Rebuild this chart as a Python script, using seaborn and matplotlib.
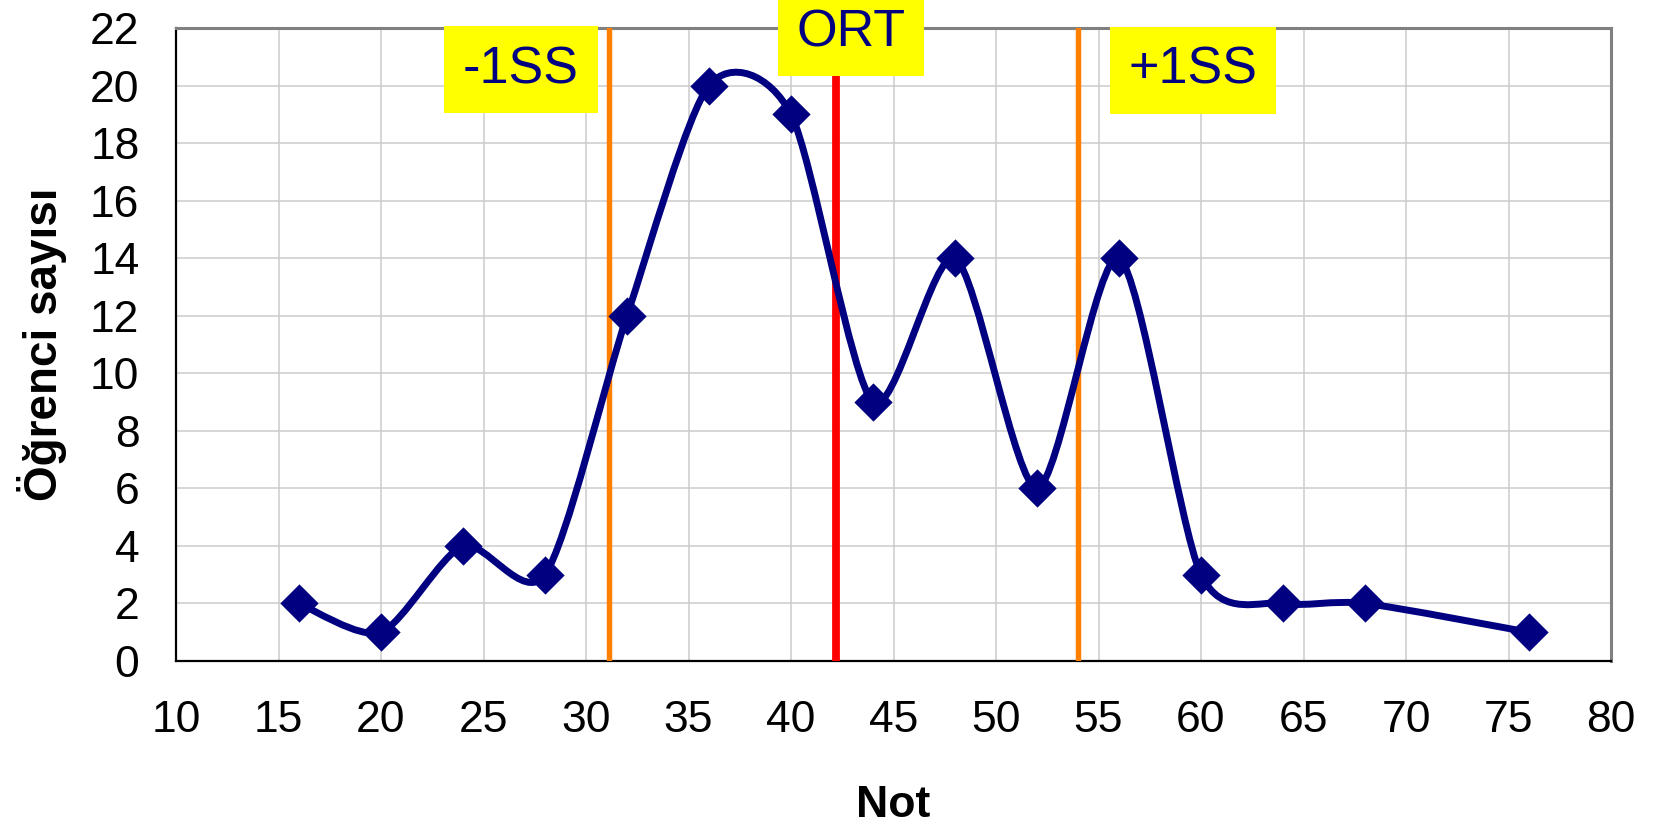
import numpy as np
import pandas as pd
import matplotlib
matplotlib.use("Agg")
import matplotlib.pyplot as plt
from matplotlib.path import Path
from matplotlib.patches import PathPatch
import seaborn as sns

# ---- data ----
notes = [16, 20, 24, 28, 32, 36, 40, 44, 48, 52, 56, 60, 64, 68, 76]
counts = [2, 1, 4, 3, 12, 20, 19, 9, 14, 6, 14, 3, 2, 2, 1]
ref_lines = [31.1, 42.2, 54.0]          # -1SS, ORT, +1SS
ref_labels = ["-1SS", "ORT", "+1SS"]
x_ticks = list(range(10, 81, 5))
y_ticks = list(range(0, 23, 2))

sns.set_theme(style="white")
plt.rcParams['font.family'] = ['Liberation Sans', 'DejaVu Sans']

W, H = 1654, 827
fig = plt.figure(figsize=(W / 100, H / 100), dpi=100)
L, R, T, B = 176, 1611, 28, 661
ax = fig.add_axes([L / W, 1 - B / H, (R - L) / W, (B - T) / H])

navy = "#000080"

# smoothed line (spreadsheet-style Bezier smoothing through the data points)
k = 0.13
pts = np.column_stack([notes, counts]).astype(float)
verts = [tuple(pts[0])]
codes = [Path.MOVETO]
n = len(pts)
for i in range(n - 1):
    p0 = pts[i - 1] if i > 0 else pts[i]
    p1 = pts[i]
    p2 = pts[i + 1]
    p3 = pts[i + 2] if i + 2 < n else pts[i + 1]
    c1 = p1 + (p2 - p0) * k
    c2 = p2 - (p3 - p1) * k
    verts += [tuple(c1), tuple(c2), tuple(p2)]
    codes += [Path.CURVE4] * 3
ax.add_patch(PathPatch(Path(verts, codes), facecolor="none", edgecolor=navy,
                       lw=5.0, zorder=4, joinstyle="round", capstyle="round"))

df = pd.DataFrame({"Not": notes, "Öğrenci sayısı": counts})
sns.scatterplot(data=df, x="Not", y="Öğrenci sayısı", marker="D", s=19.5**2,
                color=navy, edgecolor=navy, linewidth=0, ax=ax, zorder=5)

# reference vertical lines
line_colors = ["#FF8000", "#FF0000", "#FF8000"]
line_widths = [3.9, 5.6, 3.9]
for xv, c, w in zip(ref_lines, line_colors, line_widths):
    ax.axvline(xv, color=c, lw=w, zorder=3)

# labels with yellow boxes
label_pos = [(26.83, 20.55), (42.93, 21.82), (59.6, 20.53)]
for (lx, ly), t in zip(label_pos, ref_labels):
    ax.text(lx, ly, t, ha="center", va="center", fontsize=37.5, color=navy,
            bbox=dict(boxstyle="square,pad=0.36", facecolor="#FFFF00", edgecolor="none"),
            zorder=6, clip_on=False)

ax.set_xlim(10, 80)
ax.set_ylim(0, 22)
ax.set_xticks(x_ticks)
ax.set_yticks(y_ticks)
ax.grid(True, color="#CCCCCC", lw=1.1, zorder=0)
ax.set_axisbelow(True)

for s in ["top", "right"]:
    ax.spines[s].set_color("#808080")
    ax.spines[s].set_linewidth(2.2)
for s in ["left", "bottom"]:
    ax.spines[s].set_color("#000000")
    ax.spines[s].set_linewidth(1.6)

ax.tick_params(axis="both", direction="out", length=10.8, width=0.9, color="#000000",
               labelsize=32, labelcolor="black")
ax.tick_params(axis="x", pad=17)
ax.tick_params(axis="y", pad=15.5)

ax.set_xlabel("Not", fontsize=32, fontweight="bold", color="black")
ax.set_ylabel("Öğrenci sayısı", fontsize=33, fontweight="bold", color="black")
ax.xaxis.set_label_coords(0.5, -0.196)
ax.yaxis.set_label_coords(-0.076, 0.5)

fig.savefig("out.png", dpi=100)
